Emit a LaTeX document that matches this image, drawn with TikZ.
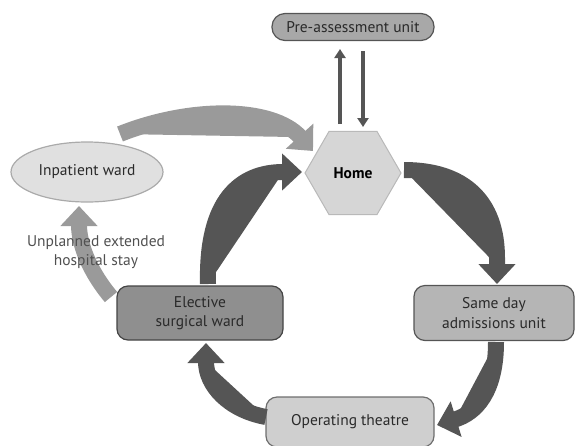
\documentclass[tikz,border=0pt]{standalone}
\usepackage{fontspec}
\setmainfont{PT Sans}
\usetikzlibrary{arrows.meta,shapes.geometric}
\definecolor{darkarr}{HTML}{555555}
\definecolor{lightarr}{HTML}{9A9A9A}
\definecolor{txt}{HTML}{2A2A2A}
\tikzset{
  lbfont/.style={font=\fontsize{15.5}{19.5}\selectfont},
  box/.style={draw, line width=1.2pt, rounded corners=11pt, align=center, text=txt, inner sep=0pt, lbfont},
  bigarrow/.style={line width=16pt, -{Triangle[width=36pt,length=20pt]}},
  thinarrow/.style={draw=darkarr, line width=3.5pt, -{Triangle[width=11pt,length=9pt]}},
}
\begin{document}
\begin{tikzpicture}[x=1pt,y=-1pt]
\useasboundingbox (0,0) rectangle (575,445);
% nodes
\node[box, fill={rgb,255:red,168;green,168;blue,168}, draw={rgb,255:red,85;green,85;blue,85}, minimum width=162pt, minimum height=27pt, rounded corners=13pt] (pre) at (353,27) {Pre-assessment unit};
\node[regular polygon, regular polygon sides=6, minimum size=96pt, inner sep=0pt, fill={rgb,255:red,214;green,214;blue,214}, draw={rgb,255:red,185;green,185;blue,185}, line width=1pt, text=black, font=\fontsize{15.5}{19.5}\selectfont\bfseries] (home) at (353,173) {Home};
\node[ellipse, draw={rgb,255:red,170;green,170;blue,170}, line width=1.2pt, fill={rgb,255:red,224;green,224;blue,224}, minimum width=152pt, minimum height=60pt, inner sep=0pt, text=txt, lbfont] (inp) at (87,172) {Inpatient ward};
\node[box, fill={rgb,255:red,181;green,181;blue,181}, draw={rgb,255:red,85;green,85;blue,85}, minimum width=160pt, minimum height=55pt] (sda) at (494,313) {Same day\\admissions unit};
\node[box, fill={rgb,255:red,207;green,207;blue,207}, draw={rgb,255:red,110;green,110;blue,110}, minimum width=168pt, minimum height=50pt] (ot) at (350,422) {Operating theatre};
\node[box, fill={rgb,255:red,143;green,143;blue,143}, draw={rgb,255:red,68;green,68;blue,68}, minimum width=166pt, minimum height=54pt] (esw) at (200,313) {Elective\\surgical ward};
% connector end coordinates
\coordinate (upS) at (340,124);
\coordinate (upE) at (340,49);
\coordinate (dnS) at (363,51);
\coordinate (dnE) at (363,127);
\coordinate (a1s) at (120,134);
\coordinate (a1e) at (313,151);
\coordinate (a2s) at (208,284);
\coordinate (a2e) at (302,172);
\coordinate (a3s) at (404,170);
\coordinate (a3e) at (497,284);
\coordinate (a4s) at (496,342);
\coordinate (a4e) at (437,425);
\coordinate (a5s) at (266,417);
\coordinate (a5e) at (206,343);
\coordinate (a6s) at (111,297);
\coordinate (a6e) at (79,206);
% thin arrows between pre and home
\draw[thinarrow] (upS) -- (upE);
\draw[thinarrow] (dnS) -- (dnE);
% big arrows
\draw[bigarrow, draw=lightarr, fill=lightarr] (a1s) .. controls (190,106) and (272,106) .. (a1e);
\draw[bigarrow, draw=darkarr, fill=darkarr] (a2s) .. controls (206,200) and (240,172) .. (a2e);
\draw[bigarrow, draw=darkarr, fill=darkarr] (a3s) .. controls (465,170) and (497,202) .. (497,258) -- (a3e);
\draw[bigarrow, draw=darkarr, fill=darkarr] (a4s) .. controls (496,392) and (476,413) .. (a4e);
\draw[bigarrow, draw=darkarr, fill=darkarr] (a5s) .. controls (228,410) and (206,385) .. (a5e);
\draw[bigarrow, draw=lightarr, fill=lightarr] (a6s) .. controls (90,272) and (79,245) .. (a6e);
\node[text={rgb,255:red,80;green,80;blue,80}, align=center, lbfont] (lbl) at (96,252) {Unplanned extended\\hospital stay};
\end{tikzpicture}
\end{document}
